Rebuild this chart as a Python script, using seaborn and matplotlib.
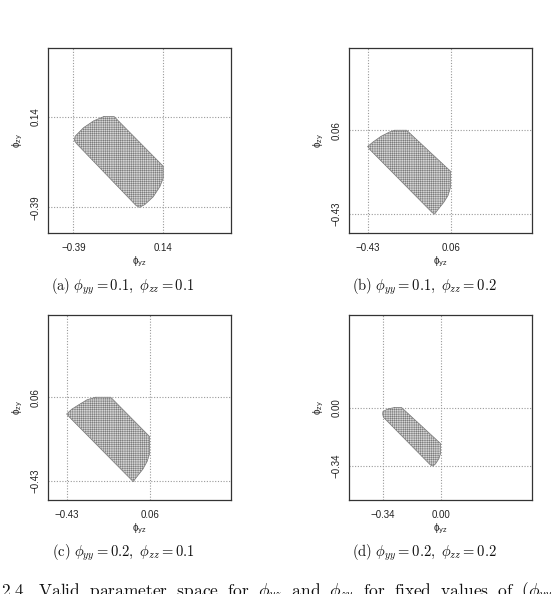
import matplotlib
matplotlib.use("Agg")
import matplotlib.pyplot as plt
import seaborn as sns
import pandas as pd

# fixed (phi_yy, phi_zz) per panel and the bounds marked by the dotted lines
panel_tags = ["a", "b", "c", "d"]
phi_yy = [0.1, 0.1, 0.2, 0.2]
phi_zz = [0.1, 0.2, 0.1, 0.2]
lower = [-0.39, -0.43, -0.43, -0.34]
upper = [0.14, 0.06, 0.06, 0.00]

# boundary of the valid region (clockwise from top-left)
edge_a_x = [-0.21, -0.15, 0.14, 0.14, 0.12, 0.08, 0.03, 0.00, -0.02, -0.37, -0.385, -0.38, -0.33, -0.27]
edge_a_y = [0.14, 0.14, -0.15, -0.22, -0.27, -0.33, -0.375, -0.39, -0.38, -0.02, 0.00, 0.025, 0.075, 0.115]

edge_b_x = [-0.27, -0.20, 0.06, 0.06, 0.045, 0.02, -0.02, -0.035, -0.05, -0.415, -0.43, -0.40, -0.35, -0.30]
edge_b_y = [0.06, 0.06, -0.18, -0.27, -0.32, -0.36, -0.41, -0.43, -0.42, -0.055, -0.035, -0.01, 0.025, 0.05]

edge_c_x = [-0.26, -0.17, 0.06, 0.06, 0.045, 0.02, -0.02, -0.037, -0.055, -0.41, -0.43, -0.40, -0.36, -0.31]
edge_c_y = [0.06, 0.06, -0.17, -0.27, -0.315, -0.36, -0.41, -0.433, -0.415, -0.06, -0.038, -0.01, 0.015, 0.045]

edge_d_x = [-0.27, -0.23, 0.00, 0.00, -0.01, -0.03, -0.045, -0.06, -0.337, -0.341, -0.34, -0.31]
edge_d_y = [0.00, 0.00, -0.21, -0.27, -0.30, -0.33, -0.342, -0.335, -0.057, -0.04, -0.024, -0.008]

edges = [(edge_a_x, edge_a_y), (edge_b_x, edge_b_y), (edge_c_x, edge_c_y), (edge_d_x, edge_d_y)]

sns.set_style("white")
plt.rcParams["font.family"] = ["Liberation Sans", "DejaVu Sans"]
plt.rcParams["mathtext.fontset"] = "cm"
plt.rcParams["hatch.linewidth"] = 0.25

W, H = 551, 594
fig = plt.figure(figsize=(W / 100, H / 100), dpi=100)

# axes boxes in pixels: left, top, right, bottom
boxes = [(48, 48, 231, 233), (349, 48, 532, 233), (48, 315, 231, 500), (349, 315, 532, 500)]
caption_xy = [(123, 287), (424, 287), (123, 553), (424, 553)]
fill_grey = "#7c7c7c"


def fmt(v):
    return f"{v:.2f}".replace("-", "\u2212")


for i, tag in enumerate(panel_tags):
    l, t, r, b = boxes[i]
    ax = fig.add_axes([l / W, 1 - b / H, (r - l) / W, (b - t) / H])
    ex, ey = edges[i]

    # grid-like texture of the evaluated region
    ax.fill(ex, ey, facecolor=fill_grey, edgecolor="none", zorder=2)
    ax.fill(ex, ey, facecolor="none", edgecolor="white", hatch="+" * 9, lw=0, zorder=3)
    outline = pd.DataFrame({"x": ex + ex[:1], "y": ey + ey[:1]})
    sns.lineplot(data=outline, x="x", y="y", sort=False, estimator=None,
                 color=fill_grey, lw=0.5, ax=ax, zorder=4)

    for v in (lower[i], upper[i]):
        ax.axvline(v, color="#9a9a9a", lw=0.8, ls=(0, (1, 1.5)), zorder=1)
        ax.axhline(v, color="#9a9a9a", lw=0.8, ls=(0, (1, 1.5)), zorder=1)

    ax.set_xlim(-0.54, 0.54)
    ax.set_ylim(-0.54, 0.54)
    ticks = [lower[i], upper[i]]
    ax.set_xticks(ticks)
    ax.set_yticks(ticks)
    ax.set_xticklabels([fmt(v) for v in ticks])
    ax.set_yticklabels([fmt(v) for v in ticks], rotation=90, va="center")
    ax.tick_params(axis="both", direction="out", length=3, width=0.8,
                   labelsize=7, color="#333333", labelcolor="#222222")
    ax.tick_params(axis="x", pad=4)
    ax.tick_params(axis="y", pad=2.5)
    ax.set_xlabel("")
    ax.set_ylabel("")
    for s in ax.spines.values():
        s.set_color("#333333")
        s.set_linewidth(0.9)

    ax.text(0.5, -29 / (b - t), "\u03d5" + r"$_{\mathrm{yz}}$",
            transform=ax.transAxes, ha="center", va="center", fontsize=7,
            math_fontfamily="dejavusans", color="#222222")
    ax.text(-30 / (r - l), 0.5, "\u03d5" + r"$_{\mathrm{zy}}$",
            transform=ax.transAxes, ha="center", va="center", fontsize=7,
            rotation=90, math_fontfamily="dejavusans", color="#222222")

    cx, cy = caption_xy[i]
    fig.text(cx / W, 1 - cy / H,
             r"$\mathrm{(%s)}\ \phi_{yy} = %.1f,\ \phi_{zz} = %.1f$" % (tag, phi_yy[i], phi_zz[i]),
             ha="center", va="center", fontsize=10.5, color="#111111")

# figure caption, cut off at the bottom edge as in the source page
fig.text(1 / W, 1 - 597 / H,
         r"$\mathrm{2.4\quad Valid\ \ parameter\ \ space\ \ for\ \ }\phi_{yz}\mathrm{\ \ and\ \ }\phi_{zy}"
         r"\mathrm{\ \ for\ \ fixed\ \ values\ \ of\ \ }(\phi_{yy},\ \phi_{zz})$",
         ha="left", va="baseline", fontsize=12.5, color="#111111")

fig.savefig("out.png", dpi=100)
